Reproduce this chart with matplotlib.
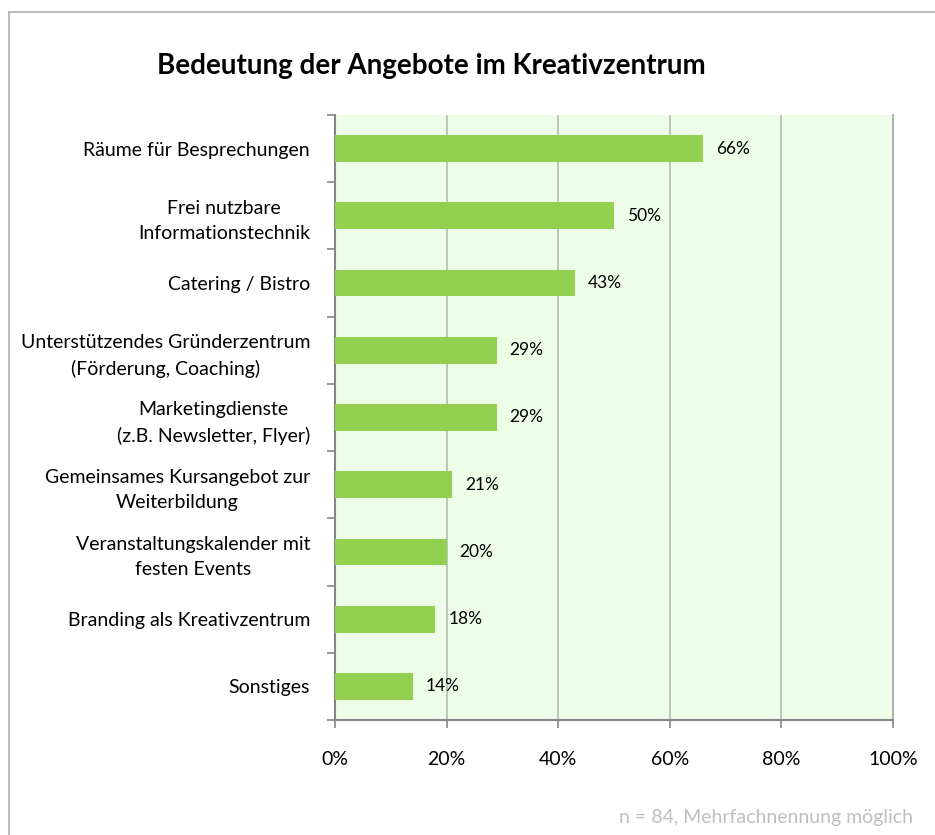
import matplotlib.pyplot as plt
from matplotlib.lines import Line2D
import numpy as np

plt.rcParams['font.family'] = ['Lato', 'DejaVu Sans']

categories = [
    "Räume für Besprechungen",
    "Frei nutzbare\nInformationstechnik",
    "Catering / Bistro",
    "Unterstützendes Gründerzentrum\n(Förderung, Coaching)",
    "Marketingdienste\n(z.B. Newsletter, Flyer)",
    "Gemeinsames Kursangebot zur\nWeiterbildung",
    "Veranstaltungskalender mit\nfesten Events",
    "Branding als Kreativzentrum",
    "Sonstiges",
]
values = [66, 50, 43, 29, 29, 21, 20, 18, 14]
x_ticks = [0, 20, 40, 60, 80, 100]

fig = plt.figure(figsize=(9.35, 8.35), dpi=100)
ax = fig.add_axes([0.3583, 0.1377, 0.5968, 0.7246])

ypos = np.arange(len(categories))[::-1]
ax.barh(ypos, values, height=0.4, color="#92D050", zorder=3)
ax.set_facecolor("#EEFDE8")

for y, v in zip(ypos, values):
    ax.text(v + 2.3, y, f"{v}%", va="center", ha="left", fontsize=12.5, zorder=4)

ax.set_xlim(0, 100)
ax.set_ylim(-0.5, len(categories) - 0.5)
ax.set_xticks(x_ticks)
ax.set_xticklabels([f"{t}%" for t in x_ticks], fontsize=14)
ax.xaxis.grid(True, color="#B4BCB4", linewidth=1.2, zorder=1)

ax.set_yticks(ypos)
ax.set_yticklabels(categories, fontsize=14, multialignment="center", linespacing=1.55)
ax.set_yticks(np.arange(-0.5, len(categories)), minor=True)
ax.tick_params(axis="y", which="major", length=0, pad=18)
ax.tick_params(axis="y", which="minor", length=6, color="#868686", width=1.2)
ax.tick_params(axis="x", length=6, color="#868686", width=1.2, pad=16)

for side in ["left", "bottom"]:
    ax.spines[side].set_color("#868686")
    ax.spines[side].set_linewidth(1.5)
ax.spines["top"].set_visible(False)
ax.spines["right"].set_color("#A0A8A0")
ax.spines["right"].set_linewidth(1.2)

fig.text(0.168, 0.921, "Bedeutung der Angebote im Kreativzentrum",
         fontsize=20, fontweight="bold", ha="left", va="center")
fig.text(0.977, 0.021, "n = 84, Mehrfachnennung möglich",
         fontsize=14, color="#BFBFBF", ha="right", va="center")

# chart area border (top and left)
fig.add_artist(Line2D([0.0096, 1.0], [0.9856, 0.9856], color="#B0B0B0", linewidth=1.2))
fig.add_artist(Line2D([0.0096, 0.0096], [0.0, 0.9856], color="#B0B0B0", linewidth=1.2))

fig.savefig("out.png", dpi=100)
